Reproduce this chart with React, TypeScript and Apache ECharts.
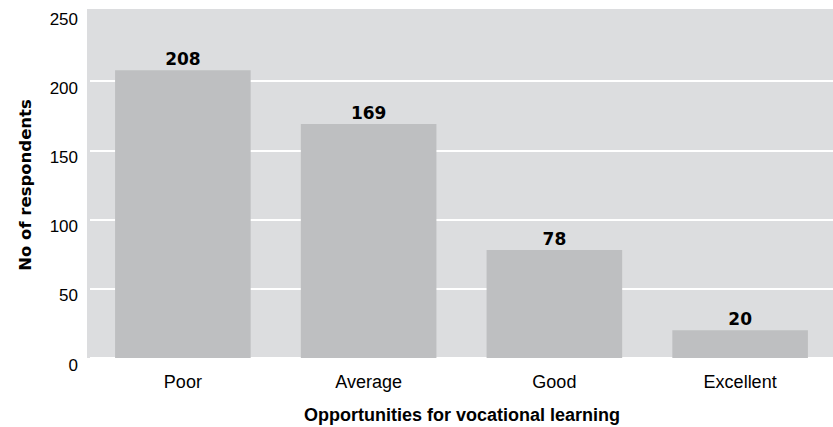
import React, { useEffect, useRef } from "react";
import * as echarts from "echarts";

const categories = ["Poor", "Average", "Good", "Excellent"];
const values = [208, 169, 78, 20];
const yTicks = [0, 50, 100, 150, 200, 250];
const xTitle = "Opportunities for vocational learning";
const yTitle = "No of respondents";

export default function App() {
  const ref = useRef<HTMLDivElement>(null);
  useEffect(() => {
    if (!ref.current) return;
    const chart = echarts.init(ref.current, null, { renderer: "svg" });
    chart.setOption({
      animation: false,
      textStyle: { fontFamily: "Liberation Sans" },
      graphic: [
        {
          type: "rect",
          z: -10,
          shape: { x: 87, y: 10, width: 760, height: 348 },
          style: { fill: "#dcdddf" },
          silent: true,
        },
        {
          type: "rect",
          z: 1,
          shape: { x: 87, y: 9, width: 760, height: 5 },
          style: { fill: "#dcdddf" },
          silent: true,
        },
        {
          type: "text",
          x: 462,
          y: 415,
          style: {
            text: xTitle,
            font: "bold 18px 'Liberation Sans'",
            fill: "#000",
            align: "center",
            verticalAlign: "middle",
          },
        },
        {
          type: "text",
          x: 25,
          y: 185,
          rotation: Math.PI / 2,
          style: {
            text: yTitle,
            font: "bold 16.5px 'DejaVu Sans'",
            fill: "#000",
            align: "center",
            verticalAlign: "middle",
          },
        },
      ],
      grid: { left: 90, right: -11, top: 12, bottom: 69, containLabel: false },
      xAxis: {
        type: "category",
        data: categories,
        axisLine: { show: false },
        axisTick: { show: false },
        axisLabel: { color: "#000", fontSize: 18, margin: 15 },
      },
      yAxis: {
        type: "value",
        min: yTicks[0],
        max: yTicks[yTicks.length - 1],
        interval: 50,
        axisLine: { show: false },
        axisTick: { show: false },
        splitLine: { show: true, lineStyle: { color: "#ffffff", width: 2 } },
        axisLabel: {
          color: "#000",
          fontSize: 17,
          margin: 12,
          verticalAlign: "top",
          lineHeight: 14,
          showMaxLabel: true,
        },
      },
      series: [
        {
          type: "bar",
          data: values,
          barCategoryGap: "27%",
          itemStyle: { color: "#bebfc1" },
          label: {
            show: true,
            position: "top",
            distance: 3,
            color: "#000",
            fontSize: 17,
            fontWeight: "bold",
            fontFamily: "DejaVu Sans",
          },
        },
      ],
    });
    return () => chart.dispose();
  }, []);
  return <div ref={ref} style={{ width: 833, height: 427, position: "absolute", left: 0, top: 0 }} />;
}
